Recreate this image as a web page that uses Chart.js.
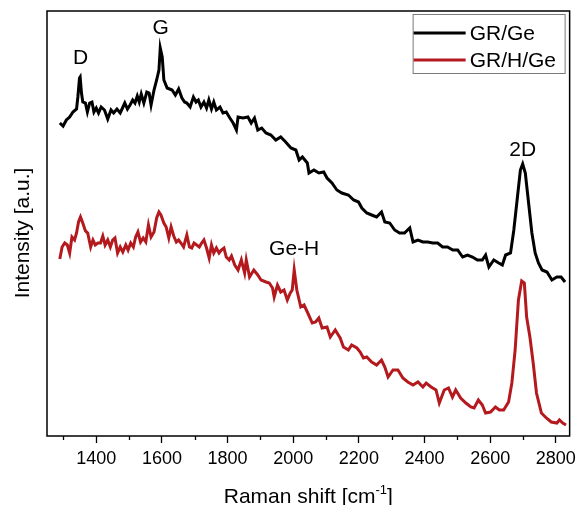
<!DOCTYPE html>
<html>
<head>
<meta charset="utf-8">
<script src="https://cdn.jsdelivr.net/npm/chart.js@4"></script>
<style>
  html, body { margin: 0; padding: 0; background: #fff; }
  #chartWrapper { position: relative; width: 581px; height: 505px; }
</style>
</head>
<body>
<div id="chartWrapper"><canvas id="ramanChart"></canvas></div>
<script>
// Raman spectra, intensity in arbitrary units
const shiftGe = [1289, 1299, 1309, 1319, 1329, 1340, 1344, 1349, 1351, 1355, 1359, 1367, 1373, 1380, 1387, 1393, 1400, 1407, 1415, 1425,
  1435, 1445, 1453, 1463, 1473, 1480, 1487, 1495, 1503, 1511, 1518, 1525, 1531, 1537, 1545, 1554, 1561, 1567, 1576, 1584,
  1591, 1595, 1601, 1606, 1616, 1631, 1641, 1651, 1661, 1669, 1676, 1686, 1696, 1704, 1711, 1719, 1728, 1736, 1743, 1751,
  1758, 1766, 1777, 1786, 1796, 1807,
  1817, 1827, 1832, 1847, 1862, 1872, 1882, 1892, 1904, 1917, 1932, 1947, 1962, 1977, 1993, 2008, 2018, 2028,
  2043, 2048, 2063, 2078, 2093, 2103, 2118, 2133, 2148, 2168, 2184, 2199, 2209, 2224, 2239, 2254, 2269, 2279, 2294, 2309,
  2324, 2339, 2355, 2365, 2380, 2395, 2410, 2425, 2440, 2455, 2470, 2486, 2501, 2516, 2531, 2546, 2561, 2576, 2586, 2596,
  2611, 2626, 2637, 2647, 2662, 2672, 2682, 2692, 2699, 2707, 2717, 2727, 2737, 2747, 2758, 2773, 2788, 2803, 2816, 2828];
const intensityGe = [313, 310, 316, 319, 324, 327, 339, 358, 359, 343, 334, 333, 324, 333, 334, 324, 328, 323, 329, 326,
  317, 326, 323, 327, 323, 328, 333, 327, 331, 336, 333, 340, 334, 342, 333, 344, 343, 331, 346, 356,
  366, 388, 379, 356, 348, 346, 341, 347, 338, 334, 333, 329, 339, 334, 336, 329, 334, 328, 336, 327,
  334, 326, 329, 323, 324, 318,
  313, 306, 319, 318, 319, 313, 318, 306, 308, 303, 301, 296, 299, 294, 288, 286, 276, 279,
  273, 263, 266, 263, 264, 258, 253, 246, 243, 241, 236, 234, 228, 223, 221, 219, 224, 214, 213, 206,
  203, 203, 208, 194, 196, 194, 194, 193, 193, 189, 189, 186, 186, 179, 181, 179, 176, 176, 181, 169,
  176, 173, 171, 181, 183, 206, 236, 266, 272, 263, 233, 203, 183, 173, 166, 164, 156, 159, 159, 154];

const shiftHGe = [1289, 1296, 1304, 1312, 1319, 1326, 1334, 1340, 1346, 1352, 1359, 1367, 1374, 1383, 1390, 1397, 1405, 1413, 1420, 1427,
  1435, 1443, 1450, 1457, 1465, 1473, 1481, 1490, 1497, 1505, 1513, 1520, 1527, 1535, 1543, 1551, 1559, 1567, 1576, 1584,
  1591, 1597, 1606, 1613, 1621, 1628, 1636, 1644, 1651, 1658, 1666, 1676, 1684, 1691, 1698, 1706, 1714, 1721, 1728, 1736,
  1744, 1751, 1758, 1766, 1774, 1781, 1789, 1796, 1805, 1812,
  1822, 1832, 1842, 1852, 1857, 1867, 1880, 1892, 1902, 1917, 1927, 1937, 1942, 1952, 1962, 1972, 1982, 1991,
  1997, 2003, 2011, 2023, 2033, 2043, 2058, 2068, 2078, 2088, 2103, 2113, 2128, 2143, 2153, 2168, 2178, 2194, 2204, 2214,
  2224, 2239, 2254, 2269, 2279, 2289, 2304, 2319, 2334, 2349, 2365, 2380, 2395, 2405, 2420, 2435, 2445, 2460, 2473, 2485,
  2495, 2510, 2526, 2541, 2551, 2564, 2576, 2586, 2601, 2616, 2628, 2641, 2656, 2666, 2676, 2686, 2696, 2704, 2711, 2721,
  2731, 2741, 2756, 2771, 2786, 2803, 2811, 2821, 2831];
const intensityHGe = [177, 189, 193, 191, 183, 199, 196, 203, 214, 219, 213, 205, 203, 189, 196, 191, 193, 193, 200, 191,
  196, 189, 196, 198, 183, 189, 184, 191, 186, 193, 189, 199, 204, 194, 198, 194, 211, 199, 204, 218,
  224, 221, 213, 209, 198, 209, 200, 194, 196, 193, 189, 201, 189, 188, 193, 191, 189, 193, 196, 188,
  178, 191, 183, 188, 183, 186, 188, 179, 176, 180,
  171, 166, 176, 163, 176, 159, 166, 161, 156, 154, 153, 148, 139, 151, 144, 146, 136, 143,
  146, 166, 146, 129, 131, 124, 113, 114, 118, 108, 109, 99, 106, 98, 89, 86, 91, 88, 84, 78,
  79, 74, 71, 76, 69, 59, 66, 66, 58, 54, 51, 54, 49, 53, 49, 46, 33, 46, 48, 39,
  46, 38, 33, 29, 28, 36, 31, 23, 24, 29, 26, 26, 34, 53, 86, 136, 155, 153, 119, 99,
  73, 43, 23, 18, 14, 13, 16, 13, 11];

const seriesLabels = ['GR/Ge', 'GR/H/Ge'];
const seriesColors = ['#000000', '#b3191d'];

const xMajorTicks = [1400, 1600, 1800, 2000, 2200, 2400, 2600, 2800];
const xMinorTicks = [1300, 1500, 1700, 1900, 2100, 2300, 2500, 2700];

const peakLabels = ['D', 'G', 'Ge-H', '2D'];
const peakShift = [1352, 1596, 2003, 2699];
const peakLabelHeight = [378, 408, 187, 286];

const FONT = "'Liberation Sans', Arial, sans-serif";

// frame, minor ticks, axis titles, peak names and the boxed legend
const decorPlugin = {
  id: 'decor',
  afterDraw(chart) {
    const { ctx, chartArea: area, scales } = chart;
    const xs = scales.x;
    const ys = scales.y;
    ctx.save();

    ctx.strokeStyle = '#000';
    ctx.lineWidth = 1.5;
    ctx.strokeRect(area.left, area.top, area.right - area.left, area.bottom - area.top);

    ctx.lineWidth = 1.3;
    ctx.beginPath();
    xMinorTicks.forEach((v) => {
      const px = Math.round(xs.getPixelForValue(v)) + 0.5;
      ctx.moveTo(px, area.bottom);
      ctx.lineTo(px, area.bottom + 4);
    });
    ctx.stroke();

    ctx.fillStyle = '#000';
    ctx.font = `21px ${FONT}`;
    ctx.textAlign = 'center';
    ctx.textBaseline = 'middle';
    peakLabels.forEach((txt, i) => {
      ctx.fillText(txt, xs.getPixelForValue(peakShift[i]), ys.getPixelForValue(peakLabelHeight[i]));
    });

    // x title with superscript
    ctx.textBaseline = 'alphabetic';
    ctx.textAlign = 'left';
    const main = 'Raman shift [cm';
    ctx.font = `21px ${FONT}`;
    const wMain = ctx.measureText(main).width;
    ctx.font = `13px ${FONT}`;
    const wSup = ctx.measureText('-1').width;
    ctx.font = `21px ${FONT}`;
    const wEnd = ctx.measureText(']').width;
    const total = wMain + wSup + wEnd;
    let tx = (area.left + area.right) / 2 - total / 2;
    const ty = 503;
    ctx.fillText(main, tx, ty);
    tx += wMain;
    ctx.font = `13px ${FONT}`;
    ctx.fillText('-1', tx, ty - 9);
    tx += wSup;
    ctx.font = `21px ${FONT}`;
    ctx.fillText(']', tx, ty);

    // y title
    ctx.save();
    ctx.translate(29, 233);
    ctx.rotate(-Math.PI / 2);
    ctx.textAlign = 'center';
    ctx.fillText('Intensity [a.u.]', 0, 0);
    ctx.restore();

    // legend
    const box = { left: area.right - 157, top: area.top + 3, w: 152, h: 59 };
    ctx.strokeStyle = '#7a7a7a';
    ctx.lineWidth = 1;
    ctx.strokeRect(box.left + 0.5, box.top + 0.5, box.w, box.h);
    chart.data.datasets.forEach((ds, i) => {
      const ly = box.top + 19 + i * 27;
      ctx.strokeStyle = ds.borderColor;
      ctx.lineWidth = 3;
      ctx.beginPath();
      ctx.moveTo(box.left + 1, ly);
      ctx.lineTo(box.left + 53, ly);
      ctx.stroke();
      ctx.fillStyle = '#000';
      ctx.font = `21px ${FONT}`;
      ctx.textAlign = 'left';
      ctx.textBaseline = 'middle';
      ctx.fillText(ds.label, box.left + 57, ly + 1);
    });

    ctx.restore();
  },
};

const toPoints = (xv, yv) => xv.map((x, i) => ({ x, y: yv[i] }));

const config = {
  type: 'line',
  data: {
    datasets: [
      {
        label: seriesLabels[0],
        data: toPoints(shiftGe, intensityGe),
        borderColor: seriesColors[0],
        borderWidth: 3,
        pointRadius: 0,
        tension: 0,
        fill: false,
      },
      {
        label: seriesLabels[1],
        data: toPoints(shiftHGe, intensityHGe),
        borderColor: seriesColors[1],
        borderWidth: 3,
        pointRadius: 0,
        tension: 0,
        fill: false,
      },
    ],
  },
  options: {
    responsive: false,
    animation: false,
    devicePixelRatio: 1,
    layout: { padding: { left: 47, top: 11, right: 5, bottom: 0 } },
    scales: {
      x: {
        type: 'linear',
        min: 1250,
        max: 2842,
        afterBuildTicks: (scale) => {
          scale.ticks = xMajorTicks.map((value) => ({ value }));
        },
        afterFit: (scale) => {
          scale.height = 69;
        },
        border: { display: false },
        grid: {
          drawOnChartArea: false,
          drawTicks: true,
          tickLength: 7,
          tickWidth: 1.3,
          tickColor: '#000',
        },
        ticks: {
          color: '#000',
          padding: 5,
          maxRotation: 0,
          autoSkip: false,
          font: { family: FONT, size: 18 },
          callback: (value) => String(value),
        },
      },
      y: {
        display: false,
        min: 0,
        max: 425,
      },
    },
    plugins: {
      legend: { display: false },
      tooltip: { enabled: false },
    },
  },
  plugins: [decorPlugin],
};

const canvas = document.querySelector('#ramanChart');
canvas.width = 581;
canvas.height = 505;
// eslint-disable-next-line no-new
new Chart(canvas, config);
</script>
</body>
</html>
